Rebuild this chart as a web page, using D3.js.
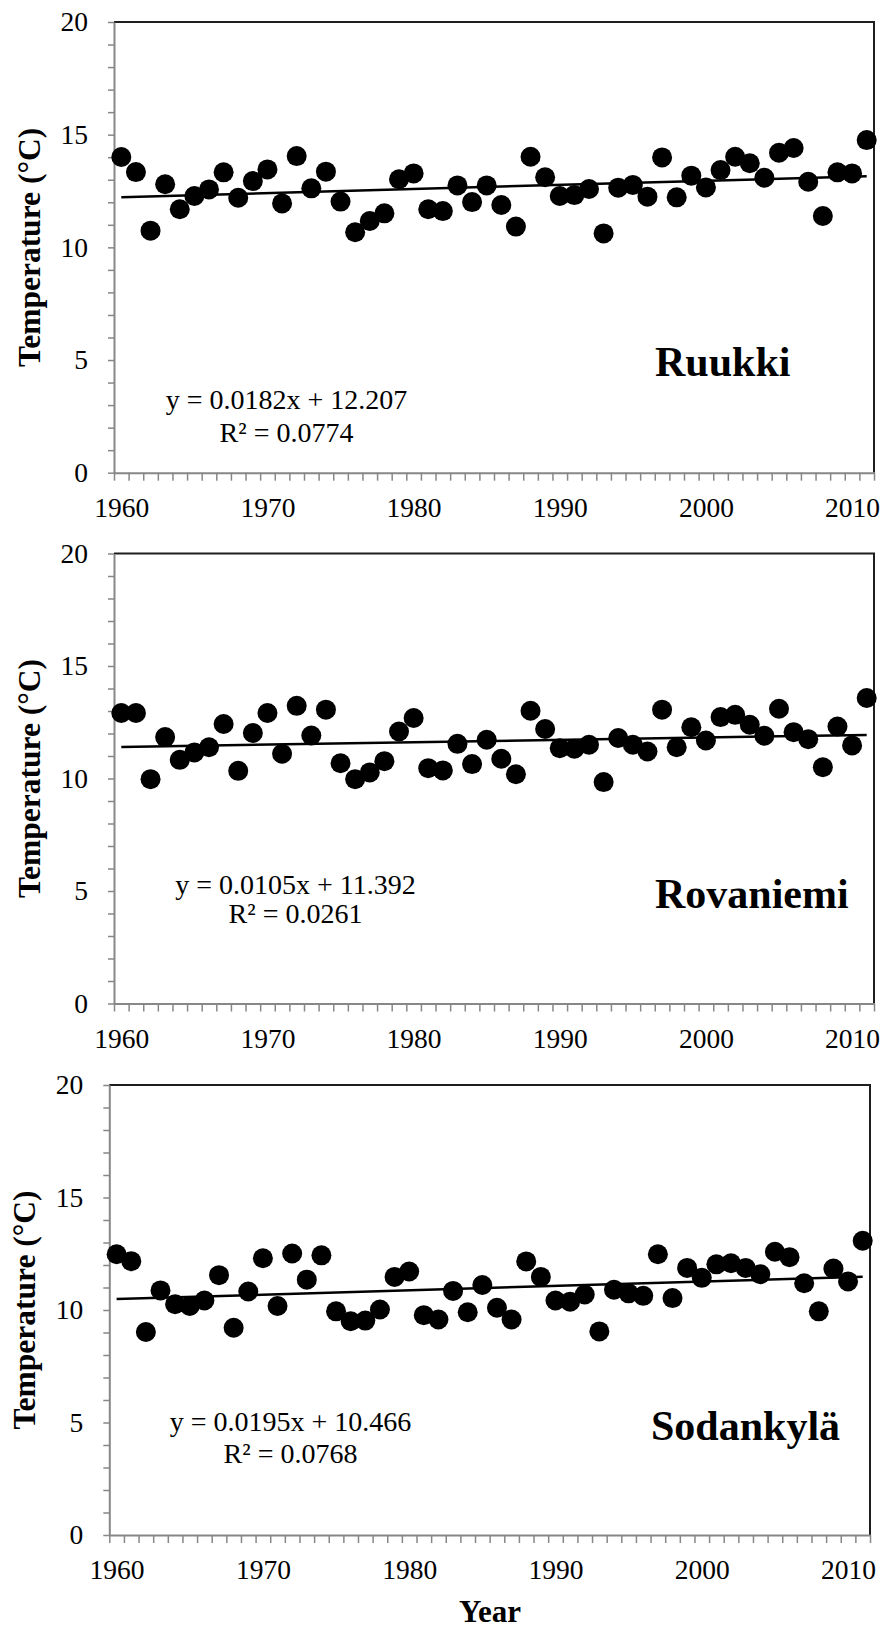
<!DOCTYPE html>
<html>
<head>
<meta charset="utf-8">
<script src="https://cdn.jsdelivr.net/npm/d3@7"></script>
<style>
  body { margin: 0; background: #fff; }
  svg text { font-family: 'Liberation Serif', 'Times New Roman', serif; fill: #000; }
</style>
</head>
<body>
<div class="container"></div>
<script>
const width = 885;
const height = 1628;
const serif = "'Liberation Serif', 'Times New Roman', serif";

// categories (one per year) and labelled ticks
const years = d3.range(1960, 2012);
const yearTicks = [1960, 1970, 1980, 1990, 2000, 2010];
const tempTicks = [0, 5, 10, 15, 20];

// annual mean temperature (°C)
const ruukki = [14.01, 13.34, 10.74, 12.80, 11.69, 12.28, 12.57, 13.33, 12.20, 12.94,
  13.46, 11.95, 14.05, 12.62, 13.36, 12.03, 10.67, 11.17, 11.51, 13.02,
  13.28, 11.69, 11.61, 12.75, 12.01, 12.75, 11.88, 10.92, 14.02, 13.11,
  12.28, 12.32, 12.59, 10.62, 12.65, 12.77, 12.25, 13.99, 12.22, 13.18,
  12.66, 13.43, 14.02, 13.73, 13.09, 14.20, 14.41, 12.91, 11.39, 13.33,
  13.28, 14.76];
const rovaniemi = [12.91, 12.91, 9.97, 11.84, 10.83, 11.16, 11.39, 12.42, 10.34, 12.02,
  12.91, 11.10, 13.23, 11.91, 13.06, 10.68, 9.97, 10.27, 10.77, 12.09,
  12.69, 10.46, 10.36, 11.54, 10.64, 11.72, 10.88, 10.19, 13.01, 12.20,
  11.35, 11.32, 11.50, 9.84, 11.80, 11.50, 11.20, 13.06, 11.39, 12.28,
  11.69, 12.73, 12.83, 12.39, 11.90, 13.10, 12.06, 11.75, 10.50, 12.31,
  11.47, 13.58];
const sodankyla = [12.48, 12.17, 9.02, 10.87, 10.26, 10.18, 10.42, 11.55, 9.21, 10.82,
  12.30, 10.18, 12.51, 11.35, 12.43, 9.94, 9.50, 9.53, 10.02, 11.47,
  11.71, 9.77, 9.58, 10.85, 9.90, 11.11, 10.10, 9.58, 12.16, 11.47,
  10.42, 10.37, 10.69, 9.05, 10.90, 10.74, 10.63, 12.48, 10.53, 11.87,
  11.43, 12.03, 12.08, 11.87, 11.59, 12.59, 12.35, 11.19, 9.94, 11.84,
  11.27, 13.08];

const stations = ['Ruukki', 'Rovaniemi', 'Sodankylä'];
const slopes = ['0.0182', '0.0105', '0.0195'];
const intercepts = ['12.207', '11.392', '10.466'];
const rSquared = ['0.0774', '0.0261', '0.0768'];

const series = [ruukki, rovaniemi, sodankyla];

// panel boxes and label spots
const panels = [
  { left: 114, top: 22, right: 874, bottom: 472.7, titleX: 40, eqX: 286.5, eqY: 409.3, r2Y: 441.7, nameX: 655, nameY: 376 },
  { left: 114, top: 553.5, right: 874, bottom: 1003.5, titleX: 40, eqX: 295.5, eqY: 893.5, r2Y: 922.5, nameX: 655, nameY: 908.3 },
  { left: 109.3, top: 1085, right: 870, bottom: 1535, titleX: 35.3, eqX: 290.5, eqY: 1431.4, r2Y: 1462.9, nameX: 651, nameY: 1439.5 }
];

const axisGrey = '#878787';
const frameDark = '#1e1e1e';

const svg = d3.select('.container')
  .append('svg')
  .attr('width', width)
  .attr('height', height);

panels.forEach((p, i) => {
  const x = d3.scaleLinear().domain([1959.5, 2011.5]).range([p.left, p.right]);
  const y = d3.scaleLinear().domain([0, 20]).range([p.bottom, p.top]);
  const g = svg.append('g');

  // top and right border of the plot area
  g.append('path')
    .attr('d', `M${p.left},${p.top}H${p.right}V${p.bottom}`)
    .attr('fill', 'none')
    .attr('stroke', frameDark)
    .attr('stroke-width', 2);

  // y axis: a tick every degree, labels every 5
  const yAxis = d3.axisLeft(y)
    .tickValues(d3.range(0, 21))
    .tickSize(6)
    .tickSizeOuter(0)
    .tickPadding(20)
    .tickFormat(d => (tempTicks.includes(d) ? d : ''));

  const gy = g.append('g')
    .attr('transform', `translate(${p.left},0)`)
    .call(yAxis);
  gy.attr('font-family', serif).attr('font-size', null);
  gy.select('.domain').attr('stroke', axisGrey).attr('stroke-width', 2);
  gy.selectAll('.tick line').attr('stroke', axisGrey).attr('stroke-width', 1.5);
  gy.selectAll('.tick text')
    .style('font-family', serif)
    .style('font-size', '27.5px');

  // x axis: tick marks between categories
  const xTicks = d3.axisBottom(x)
    .tickValues(d3.range(1959.5, 2012, 1))
    .tickSize(8)
    .tickSizeOuter(0)
    .tickFormat('');

  const gx = g.append('g')
    .attr('transform', `translate(0,${p.bottom})`)
    .call(xTicks);
  gx.select('.domain').attr('stroke', axisGrey).attr('stroke-width', 2);
  gx.selectAll('.tick line').attr('stroke', axisGrey).attr('stroke-width', 1.5);

  // x labels centred on their category
  const xLabels = d3.axisBottom(x)
    .tickValues(yearTicks)
    .tickSize(0)
    .tickFormat(d3.format('d'));

  const gl = g.append('g')
    .attr('transform', `translate(0,${p.bottom})`)
    .call(xLabels);
  gl.attr('font-family', serif).attr('font-size', null);
  gl.select('.domain').remove();
  gl.selectAll('.tick text')
    .attr('y', 44)
    .attr('dy', 0)
    .style('font-family', serif)
    .style('font-size', '27.5px');

  // axis title
  g.append('text')
    .attr('transform', `translate(${p.titleX},${(p.top + p.bottom) / 2}) rotate(-90)`)
    .attr('text-anchor', 'middle')
    .style('font-family', serif)
    .style('font-size', '31.5px')
    .style('font-weight', 'bold')
    .text('Temperature (°C)');

  // linear trend from the fitted equation (x = 1 for 1960)
  const slope = +slopes[i];
  const intercept = +intercepts[i];
  const ends = [years[0], years[years.length - 1]];
  const trend = d3.line()
    .x(d => x(d))
    .y(d => y(slope * (d - years[0] + 1) + intercept));

  g.append('path')
    .datum(ends)
    .attr('d', trend)
    .attr('fill', 'none')
    .attr('stroke', '#000')
    .attr('stroke-width', 2.5);

  g.selectAll('circle')
    .data(series[i])
    .join('circle')
    .attr('cx', (d, j) => x(years[j]))
    .attr('cy', d => y(d))
    .attr('r', 10)
    .attr('fill', '#000');

  g.append('text')
    .attr('x', p.eqX)
    .attr('y', p.eqY)
    .attr('text-anchor', 'middle')
    .style('font-family', serif)
    .style('font-size', '28px')
    .text(`y = ${slopes[i]}x + ${intercepts[i]}`);

  g.append('text')
    .attr('x', p.eqX)
    .attr('y', p.r2Y)
    .attr('text-anchor', 'middle')
    .style('font-family', serif)
    .style('font-size', '28px')
    .text(`R² = ${rSquared[i]}`);

  g.append('text')
    .attr('x', p.nameX)
    .attr('y', p.nameY)
    .style('font-family', serif)
    .style('font-size', '42px')
    .style('font-weight', 'bold')
    .text(stations[i]);
});

svg.append('text')
  .attr('x', 490)
  .attr('y', 1621.5)
  .attr('text-anchor', 'middle')
  .style('font-family', serif)
  .style('font-size', '31px')
  .style('font-weight', 'bold')
  .text('Year');
</script>
</body>
</html>
